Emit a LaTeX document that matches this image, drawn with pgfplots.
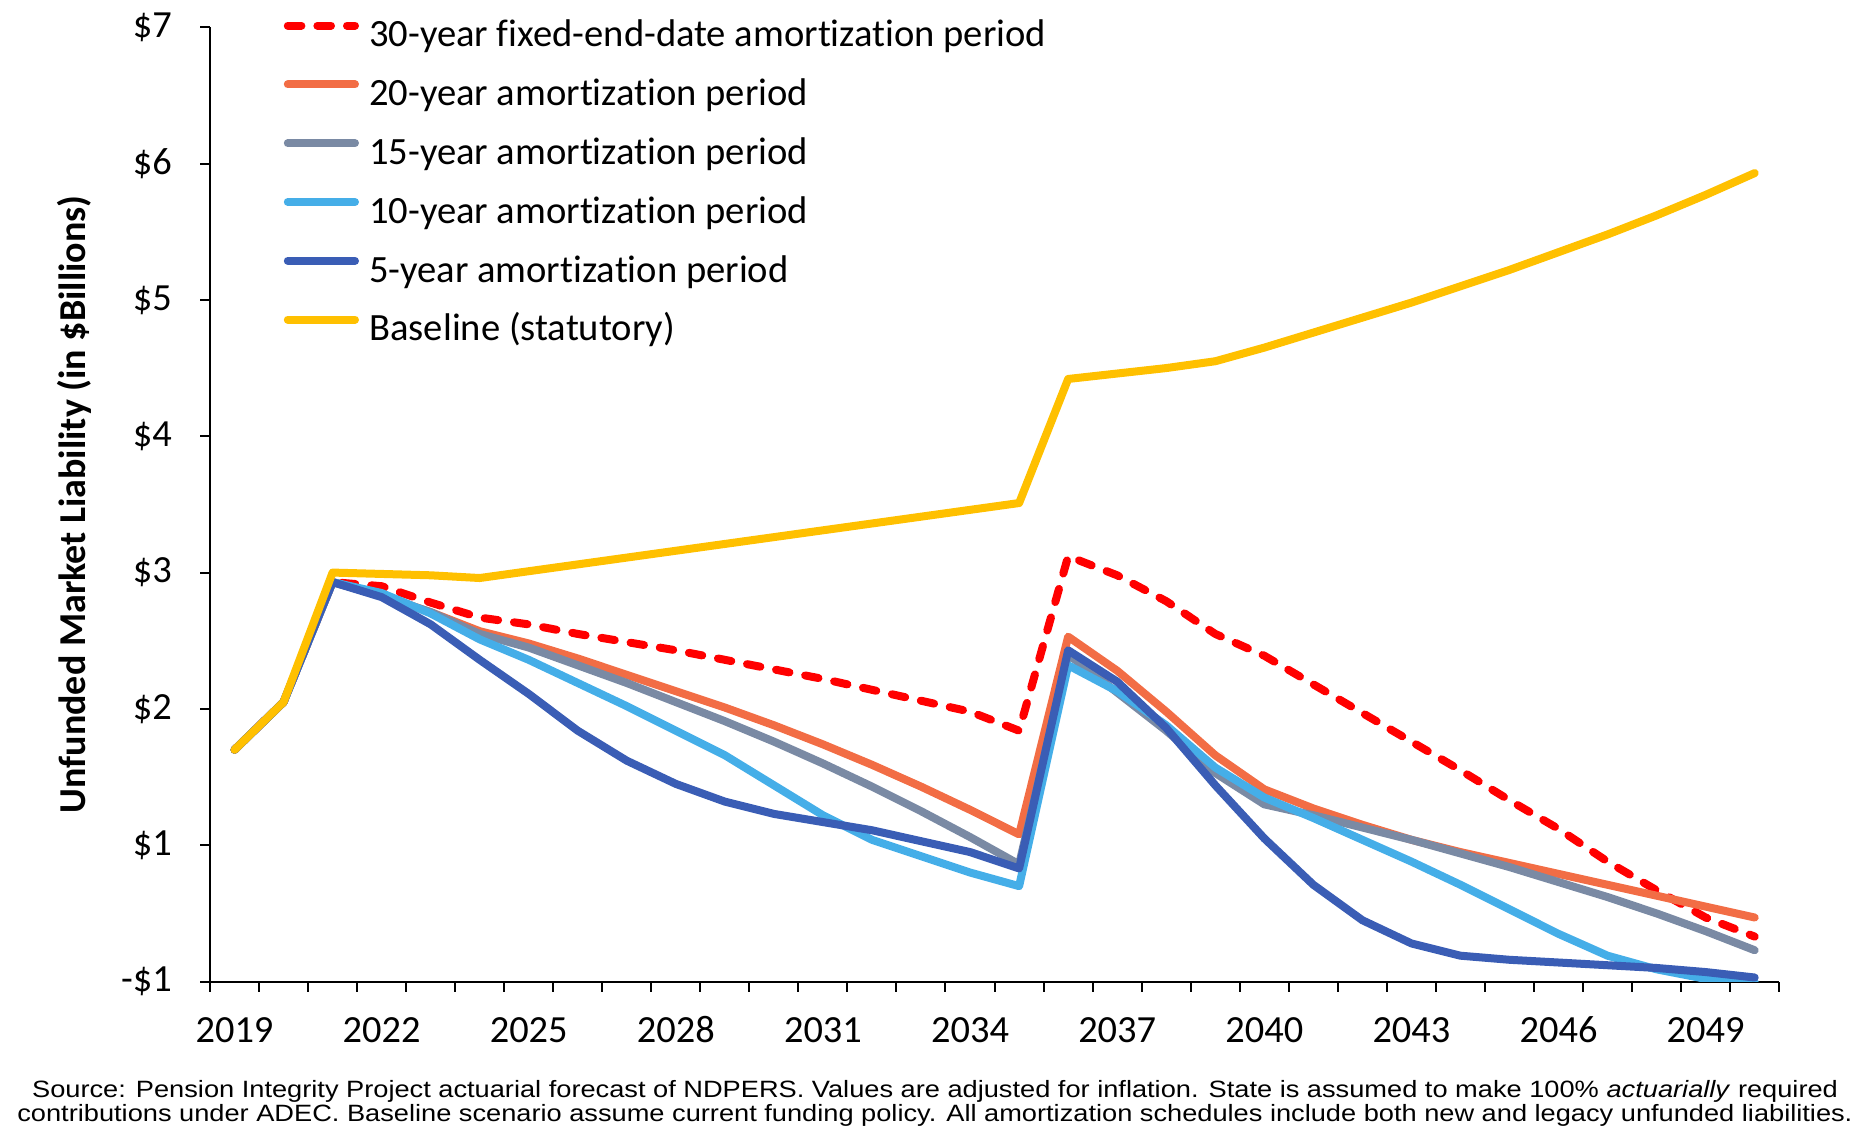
\documentclass[border=0pt]{standalone}
\usepackage{fontspec}
\setmainfont{Carlito}[Ligatures={NoCommon}]
\newfontfamily\arialfont{Liberation Sans}[FakeStretch=1.153]
\usepackage{pgfplots}
\pgfplotsset{compat=1.18}

\definecolor{cRed}{HTML}{FF0000}
\definecolor{cOrange}{HTML}{F26D45}
\definecolor{cGray}{HTML}{7A8AA4}
\definecolor{cLight}{HTML}{45AEE8}
\definecolor{cDark}{HTML}{3A5DB5}
\definecolor{cYellow}{HTML}{FFC000}

\begin{document}
\begin{tikzpicture}
  \begin{axis}[
    name=ax,
    scale only axis,
    width=392.3pt,
    height=238.6pt,
    xmin=2018.5, xmax=2050.5,
    ymin=0, ymax=7,
    axis lines*=left,
    axis line style={line width=0.5pt},
    xtick={2019,2022,...,2049},
    minor xtick={2018.5,2019.5,...,2050.5},
    every major x tick/.append style={draw=none},
    ytick={0,1,...,7},
    yticklabels={-\$1,\$1,\$2,\$3,\$4,\$5,\$6,\$7},
    tick align=outside,
    major tick length=2.5pt,
    minor tick length=2.5pt,
    tick style={line width=0.5pt, black},
    /pgf/number format/1000 sep={},
    /pgf/number format/assume math mode=true,
    tick label style={font=\fontsize{9.6pt}{11pt}\selectfont},
    xticklabel style={yshift=-2.9pt, text height=6.3pt, text depth=0pt},
    yticklabel style={xshift=-3.5pt},
    ylabel={\bfseries Unfunded Market Liability (in \$Billions)},
    ylabel style={at={(axis description cs:-0.0866,0.5)}, anchor=center,
      font=\fontsize{9.5pt}{11pt}\selectfont},
    legend cell align=left,
    legend style={at={(axis description cs:0,1)}, anchor=north west,
      xshift=18.25pt, yshift=2.3pt, draw=none, fill=none, inner sep=0pt,
      row sep=5.7pt, column sep=2.6pt,
      font=\fontsize{9.65pt}{11pt}\selectfont,
      nodes={inner sep=0pt, text height=7pt, text depth=2pt}},
    legend image code/.code={\draw[#1] (0pt,0.28em) -- (16.8pt,0.28em);},
    every axis plot/.append style={line width=2pt, line join=round, line cap=round},
  ]
    \addplot[cRed, dash pattern=on 3.4pt off 4pt] coordinates {
      (2019,1.70) (2020,2.05) (2021,2.93) (2022,2.90) (2023,2.78) (2024,2.67)
      (2025,2.62) (2026,2.55) (2027,2.49) (2028,2.43) (2029,2.36) (2030,2.29)
      (2031,2.22) (2032,2.14) (2033,2.06) (2034,1.98) (2035,1.84) (2036,3.12)
      (2037,2.98) (2038,2.79) (2039,2.55) (2040,2.39) (2041,2.18) (2042,1.97)
      (2043,1.76) (2044,1.55) (2045,1.33) (2046,1.12) (2047,0.88) (2048,0.67)
      (2049,0.47) (2050,0.33)
    };
    \addlegendentry{30-year fixed-end-date amortization period}
    \addplot[cOrange] coordinates {
      (2019,1.70) (2020,2.05) (2021,2.93) (2022,2.83) (2023,2.71) (2024,2.57)
      (2025,2.48) (2026,2.37) (2027,2.25) (2028,2.13) (2029,2.01) (2030,1.88)
      (2031,1.74) (2032,1.59) (2033,1.43) (2034,1.26) (2035,1.08) (2036,2.53)
      (2037,2.28) (2038,1.98) (2039,1.66) (2040,1.41) (2041,1.27) (2042,1.15)
      (2043,1.04) (2044,0.95) (2045,0.87) (2046,0.79) (2047,0.71) (2048,0.63)
      (2049,0.55) (2050,0.47)
    };
    \addlegendentry{20-year amortization period}
    \addplot[cGray] coordinates {
      (2019,1.70) (2020,2.05) (2021,2.93) (2022,2.83) (2023,2.71) (2024,2.55)
      (2025,2.45) (2026,2.32) (2027,2.19) (2028,2.05) (2029,1.91) (2030,1.76)
      (2031,1.60) (2032,1.43) (2033,1.25) (2034,1.06) (2035,0.86) (2036,2.40)
      (2037,2.12) (2038,1.84) (2039,1.53) (2040,1.30) (2041,1.22) (2042,1.13)
      (2043,1.04) (2044,0.94) (2045,0.84) (2046,0.73) (2047,0.62) (2048,0.50)
      (2049,0.37) (2050,0.23)
    };
    \addlegendentry{15-year amortization period}
    \addplot[cLight] coordinates {
      (2019,1.70) (2020,2.05) (2021,2.93) (2022,2.85) (2023,2.70) (2024,2.51)
      (2025,2.36) (2026,2.19) (2027,2.02) (2028,1.84) (2029,1.66) (2030,1.44)
      (2031,1.22) (2032,1.04) (2033,0.92) (2034,0.80) (2035,0.70) (2036,2.32)
      (2037,2.13) (2038,1.88) (2039,1.57) (2040,1.35) (2041,1.20) (2042,1.04)
      (2043,0.88) (2044,0.71) (2045,0.53) (2046,0.35) (2047,0.19) (2048,0.09)
      (2049,0.02) (2050,0.00)
    };
    \addlegendentry{10-year amortization period}
    \addplot[cDark] coordinates {
      (2019,1.70) (2020,2.05) (2021,2.93) (2022,2.82) (2023,2.62) (2024,2.36)
      (2025,2.11) (2026,1.84) (2027,1.62) (2028,1.45) (2029,1.32) (2030,1.23)
      (2031,1.17) (2032,1.11) (2033,1.03) (2034,0.95) (2035,0.83) (2036,2.43)
      (2037,2.20) (2038,1.86) (2039,1.44) (2040,1.05) (2041,0.71) (2042,0.45)
      (2043,0.28) (2044,0.19) (2045,0.16) (2046,0.14) (2047,0.12) (2048,0.10)
      (2049,0.07) (2050,0.03)
    };
    \addlegendentry{5-year amortization period}
    \addplot[cYellow] coordinates {
      (2019,1.70) (2020,2.05) (2021,3.00) (2022,2.99) (2023,2.98) (2024,2.96)
      (2025,3.01) (2026,3.06) (2027,3.11) (2028,3.16) (2029,3.21) (2030,3.26)
      (2031,3.31) (2032,3.36) (2033,3.41) (2034,3.46) (2035,3.51) (2036,4.42)
      (2037,4.46) (2038,4.50) (2039,4.55) (2040,4.65) (2041,4.76) (2042,4.87)
      (2043,4.98) (2044,5.10) (2045,5.22) (2046,5.35) (2047,5.48) (2048,5.62)
      (2049,5.77) (2050,5.93)
    };
    \addlegendentry{Baseline (statutory)}
  \end{axis}
  \node[font=\arialfont\fontsize{5.9pt}{6.05pt}\selectfont, align=center, inner sep=0pt, anchor=center]
    at ([xshift=-14.9pt, yshift=-30.5pt]ax.south) {Source: Pension Integrity Project actuarial forecast of NDPERS. Values are adjusted for inflation. State is assumed to make 100\% \textit{actuarially} required\\
    contributions under ADEC. Baseline scenario assume current funding policy. All amortization schedules include both new and legacy unfunded liabilities.};
  \pgfresetboundingbox
  \useasboundingbox ([xshift=-52.5pt,yshift=6.8pt]ax.north west) rectangle ([xshift=23.2pt,yshift=-38.1pt]ax.south east);
\end{tikzpicture}
\end{document}
